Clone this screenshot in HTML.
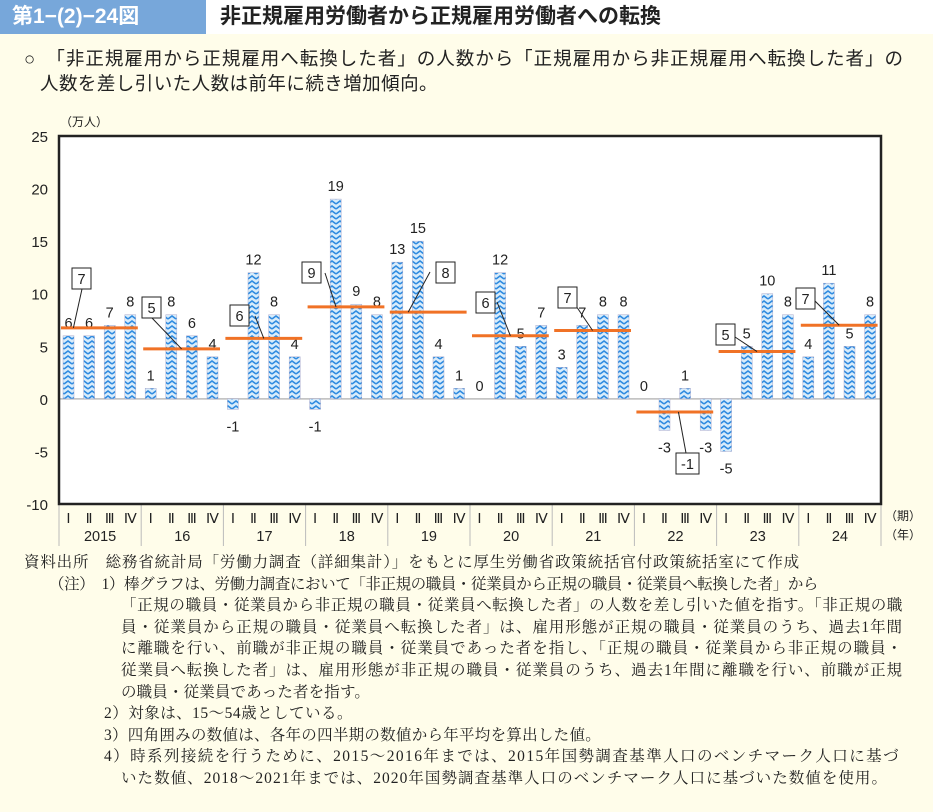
<!DOCTYPE html>
<html><head><meta charset="utf-8">
<style>
body{margin:0;width:933px;height:812px;background:#fffdea;font-family:"Liberation Sans","Noto Sans CJK JP",sans-serif;overflow:hidden;position:relative}
.hd{position:absolute;left:0;top:0;width:933px;height:34px;background:#fff}
.num{position:absolute;left:0;top:0;width:206px;height:34px;background:#77a7da;color:#fff;font-size:21px;line-height:34px;padding-left:12px;box-sizing:border-box;font-weight:bold}
.ttl{position:absolute;left:220px;top:0;height:34px;line-height:34px;font-size:21px;color:#222;font-weight:bold}
.lead{position:absolute;left:0;top:46px;width:933px;height:60px;font-size:18.5px;color:#222;line-height:25px}
.lead div{position:absolute;white-space:nowrap}
.notes{position:absolute;left:0;top:552px;width:933px;font-family:"Liberation Serif","Noto Serif CJK SC",serif;font-size:15.5px;color:#222;line-height:21.6px}
.notes div{position:absolute;white-space:nowrap}
</style></head><body>
<div class="hd">
<div class="num">第1−(2)−24図</div>
<div class="ttl">非正規雇用労働者から正規雇用労働者への転換</div>
</div>
<div class="lead">
<div class="fit" data-w="880" style="left:24px;top:0">○　「非正規雇用から正規雇用へ転換した者」の人数から「正規雇用から非正規雇用へ転換した者」の</div>
<div class="fit" data-w="398" style="left:40px;top:25px">人数を差し引いた人数は前年に続き増加傾向。</div>
</div>
<svg id="chart" width="933" height="550" style="position:absolute;left:0;top:0">
<defs>
<pattern id="zz" width="8" height="5" patternUnits="userSpaceOnUse">
<rect width="8" height="5" fill="#d8ecfb"/>
<polyline points="0,4 4,1 8,4" fill="none" stroke="#2f8be0" stroke-width="1.6"/>
</pattern>
</defs>
<g id="g"></g>
</svg>
<div class="notes">
<div class="fit" data-w="776" style="left:24px;top:0">資料出所　総務省統計局「労働力調査（詳細集計）」をもとに厚生労働省政策統括官付政策統括室にて作成</div>
<div class="fit" data-w="769" style="left:49px;top:21.6px">（注）　1）棒グラフは、労働力調査において「非正規の職員・従業員から正規の職員・従業員へ転換した者」から</div>
<div class="fit" data-w="782" style="left:121px;top:43.2px">「正規の職員・従業員から非正規の職員・従業員へ転換した者」の人数を差し引いた値を指す。「非正規の職</div>
<div class="fit" data-w="782" style="left:121px;top:64.8px">員・従業員から正規の職員・従業員へ転換した者」は、雇用形態が正規の職員・従業員のうち、過去1年間</div>
<div class="fit" data-w="782" style="left:121px;top:86.4px">に離職を行い、前職が非正規の職員・従業員であった者を指し、「正規の職員・従業員から非正規の職員・</div>
<div class="fit" data-w="782" style="left:121px;top:108px">従業員へ転換した者」は、雇用形態が非正規の職員・従業員のうち、過去1年間に離職を行い、前職が正規</div>
<div class="fit" data-w="249" style="left:121px;top:129.6px">の職員・従業員であった者を指す。</div>
<div class="fit" data-w="249" style="left:104px;top:151.2px">2）対象は、15～54歳としている。</div>
<div class="fit" data-w="497" style="left:104px;top:172.8px">3）四角囲みの数値は、各年の四半期の数値から年平均を算出した値。</div>
<div class="fit" data-w="796" style="left:104px;top:194.4px">4）時系列接続を行うために、2015～2016年までは、2015年国勢調査基準人口のベンチマーク人口に基づ</div>
<div class="fit" data-w="767" style="left:121px;top:216px">いた数値、2018～2021年までは、2020年国勢調査基準人口のベンチマーク人口に基づいた数値を使用。</div>
</div>
<script>
const years=["2015","16","17","18","19","20","21","22","23","24"];
const quarters=["Ⅰ","Ⅱ","Ⅲ","Ⅳ"];
const values=[6,6,7,8, 1,8,6,4, -1,12,8,4, -1,19,9,8, 13,15,4,1, 0,12,5,7, 3,7,8,8, 0,-3,1,-3, -5,5,10,8, 4,11,5,8];
const yTicks=[25,20,15,10,5,0,-5,-10];
// callout box positions (layout only): [boxX, boxY, elbowX, elbowY]
const callouts=[[72,268,82,289],[142,297,152,318],[230,305,255,316],[302,262,325,273],[436,262,430,272],[476,292,497,302],[558,287,570,297],[676,453,686,453],[716,324,732,335],[796,288,812,298]];
const L=59,R=881,T=136,B=504,ymin=-10,ymax=25;
const y=v=>B-(v-ymin)/(ymax-ymin)*(B-T);
const gw=(R-L)/years.length;
const x=i=>L+Math.floor(i/4)*gw+4+(i%4)*20.6;
const NS="http://www.w3.org/2000/svg";
const g=document.getElementById('g');
function mk(t,a,txt){const e=document.createElementNS(NS,t);for(const k in a)e.setAttribute(k,a[k]);if(txt!==undefined)e.textContent=txt;g.appendChild(e);return e;}
let e=mk('rect',{x:L,y:T,width:R-L,height:B-T,fill:'#fff'});


e=mk('line',{x1:L,x2:R,y1:y(0),y2:y(0),stroke:'#bbb','stroke-width':1.5});


yTicks.forEach(v=>{const t=mk('text',{x:48,y:y(v)+6,'text-anchor':'end','font-size':15,fill:'#222'},v);

});
e=mk('text',{x:60,y:126,'font-size':12,fill:'#222'},'（万人）');


values.forEach((v,i)=>{
 const bx=x(i),w=11;
 const r=mk('rect',{x:bx,y:Math.min(y(v),y(0)),width:w,height:Math.abs(y(v)-y(0)),fill:'url(#zz)',stroke:'#aac','stroke-width':0.5});
 
 
 const ly=v>=0?y(v)-8:y(v)+22;
 const t=mk('text',{x:bx+w/2,y:ly,'text-anchor':'middle','font-size':14.5,fill:'#222'},v);
 
 
});
years.forEach((yr,k)=>{
 const vs=values.slice(k*4,k*4+4);const m=vs.reduce((a,b)=>a+b,0)/4;
 const x1=x(k*4)-2,x2=x(k*4+3)+13,ly=y(m);
 const ln=mk('line',{x1:x1,x2:x2,y1:ly,y2:ly,stroke:'#f07226','stroke-width':3});
 
 
 const c=callouts[k];const lab=Math.round(m);const bw=lab<0?23:19;
 const tx=x(k*4)+(x(k*4+3)+11-x(k*4))*(k===7?0.55:0.5)+(k===0?-26:0)+(k===3?-10:0)+(k===4?-20:0);
 const pl=mk('polyline',{points:`${c[2]},${c[3]} ${tx},${ly}`,fill:'none',stroke:'#222','stroke-width':1});
 
 
 const bx=mk('rect',{x:c[0],y:c[1],width:bw,height:21,fill:'#fff',stroke:'#222','stroke-width':1});
 
 
 const bt=mk('text',{x:c[0]+bw/2,y:c[1]+16,'text-anchor':'middle','font-size':14.5,fill:'#222'},lab);
 
 
 quarters.forEach((q,j)=>{const qt=mk('text',{x:x(k*4+j)+5.5,y:523,'text-anchor':'middle','font-size':14,fill:'#222','font-family':'Liberation Serif,serif'},q);
 
 });
 const yt=mk('text',{x:L+k*gw+gw/2,y:541,'text-anchor':'middle','font-size':14.5,fill:'#222'},yr);
 
 
 const sp=mk('line',{x1:L+k*gw,x2:L+k*gw,y1:B,y2:546,stroke:'#bbb','stroke-width':1});
 
 
});
e=mk('line',{x1:R,x2:R,y1:B,y2:546,stroke:'#bbb','stroke-width':1});


e=mk('rect',{x:L,y:T,width:R-L,height:B-T,fill:'none',stroke:'#222','stroke-width':2.5});


e=mk('text',{x:885,y:520,'font-size':12,fill:'#222'},'（期）');


e=mk('text',{x:885,y:539,'font-size':12,fill:'#222'},'（年）');


document.querySelectorAll('.fit').forEach(d=>{
 const target=+d.getAttribute('data-w');
 const w=d.getBoundingClientRect().width;
 const n=d.textContent.length;
 if(n>1)d.style.letterSpacing=((target-w)/n)+'px';
});
</script>
</body></html>
